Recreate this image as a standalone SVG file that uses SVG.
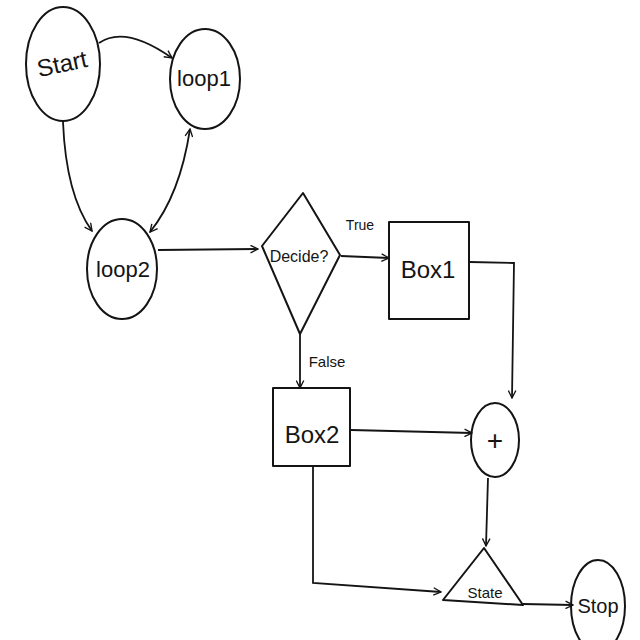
<svg xmlns="http://www.w3.org/2000/svg" width="640" height="640" viewBox="0 0 640 640">
<defs>
<marker id="arr" viewBox="0 0 12 12" refX="11" refY="6" markerWidth="9" markerHeight="9" orient="auto-start-reverse" markerUnits="userSpaceOnUse">
<path d="M1,1 L11,6 L1,11" fill="none" stroke="#141414" stroke-width="1.8"/>
</marker>
<style>
.s{fill:none;stroke:#141414;stroke-width:2;stroke-linejoin:round;stroke-linecap:round}
.c{fill:none;stroke:#141414;stroke-width:1.8;marker-end:url(#arr)}
.t{font-family:"Liberation Sans","DejaVu Sans",sans-serif;fill:#141414;text-anchor:middle}
</style>
</defs>
<rect width="640" height="640" fill="#fff"/>
<g id="connectors">
<path class="c" d="M99,43 Q125,25 172,58"/>
<path class="c" d="M63,122 Q66,195 92,231"/>
<path class="c" d="M190,129 Q180,195 150,232" style="marker-start:url(#arr)"/>
<path class="c" d="M158,250 L258,249"/>
<path class="c" d="M341,256 L389,258"/>
<path class="c" d="M300,334 L300,388"/>
<path class="c" d="M470,262 L514,263 L512,398"/>
<path class="c" d="M351,430 L472,433"/>
<path class="c" d="M313,467 L313,583 L441,592"/>
<path class="c" d="M488,478 L486,546"/>
<path class="c" d="M523,604 L573,605"/>
</g>
<g id="start"><ellipse class="s" cx="63" cy="64" rx="37" ry="57"/><text class="t" x="63" y="72" font-size="24" transform="rotate(-12 63 68)">Start</text></g>
<g id="loop1"><ellipse class="s" cx="205" cy="79" rx="35" ry="50"/><text class="t" x="204" y="86" font-size="22">loop1</text></g>
<g id="loop2"><ellipse class="s" cx="122" cy="269" rx="35" ry="50"/><text class="t" x="123" y="277" font-size="22">loop2</text></g>
<g id="decide"><path class="s" d="M303,193 L340,255 L300,334 L262,246 Z"/><text class="t" x="299" y="262" font-size="16">Decide?</text></g>
<g id="box1"><rect class="s" x="389" y="222" width="80" height="97"/><text class="t" x="428" y="278" font-size="24">Box1</text></g>
<g id="box2"><rect class="s" x="273" y="388" width="77" height="78"/><text class="t" x="312" y="443" font-size="24">Box2</text></g>
<g id="plus"><ellipse class="s" cx="495" cy="440" rx="24" ry="37"/><text class="t" x="495" y="450" font-size="28">+</text></g>
<g id="state"><path class="s" d="M484,548 L523,605 L443,600 Z"/><text class="t" x="485" y="598" font-size="15">State</text></g>
<g id="stop"><ellipse class="s" cx="598" cy="606" rx="27" ry="46"/><text class="t" x="598" y="613" font-size="20">Stop</text></g>
<text class="t" x="360" y="230" font-size="14">True</text>
<text class="t" x="327" y="367" font-size="15">False</text>
</svg>
